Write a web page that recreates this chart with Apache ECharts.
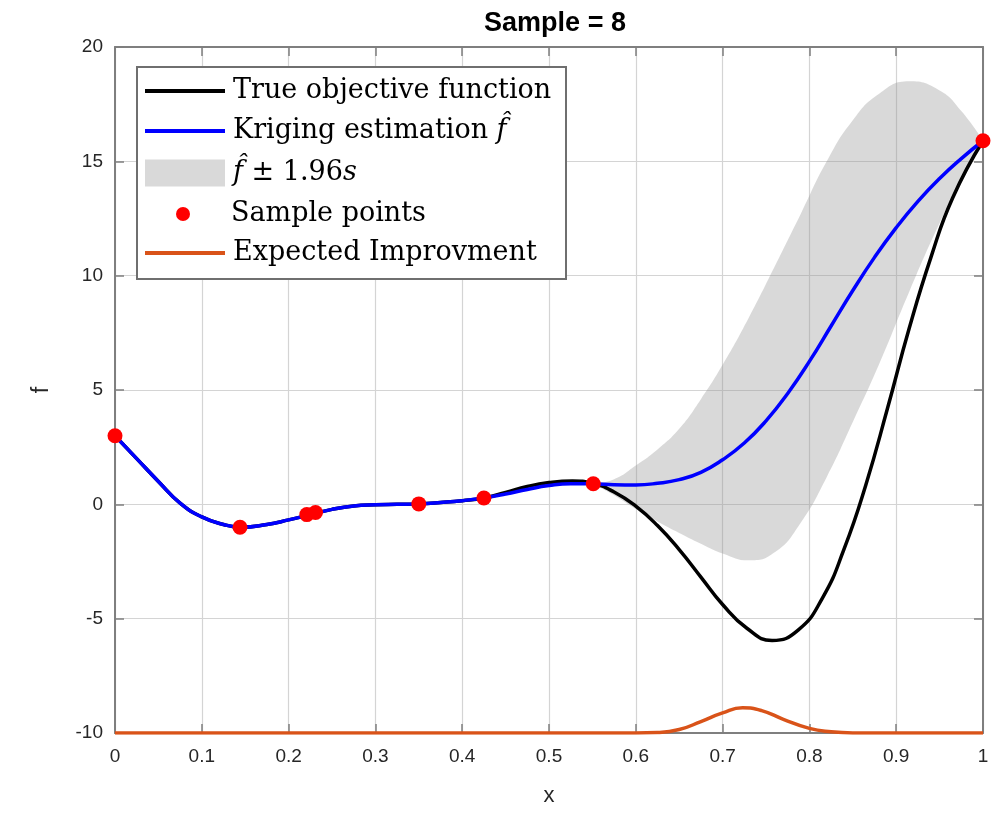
<!DOCTYPE html>
<html>
<head>
<meta charset="utf-8">
<script src="https://cdn.jsdelivr.net/npm/echarts@6/dist/echarts.min.js"></script>
<style>
  html, body { margin: 0; padding: 0; background: #fff; }
  #chart { width: 1000px; height: 814px; }
</style>
</head>
<body>
<div id="chart"></div>
<script>
// kriging estimate
const krigX = [0, 0.025, 0.05, 0.075, 0.1, 0.125, 0.145, 0.175, 0.2, 0.225, 0.25, 0.275, 0.3, 0.325, 0.35, 0.375, 0.4,
  0.425, 0.45, 0.475, 0.5, 0.525, 0.55, 0.575, 0.6, 0.625, 0.65, 0.675, 0.7, 0.725, 0.75, 0.775, 0.8, 0.825, 0.85,
  0.875, 0.9, 0.925, 0.95, 0.975, 1];
const kriging = [3.0, 2.0, 1.0, 0.05, -0.55, -0.88, -1.0, -0.88, -0.68, -0.45, -0.22, -0.07, -0.02, 0.0, 0.02, 0.08, 0.16,
  0.28, 0.45, 0.65, 0.82, 0.9, 0.9, 0.86, 0.85, 0.92, 1.08, 1.4, 1.95, 2.68, 3.65, 4.85, 6.25, 7.8, 9.35,
  10.8, 12.1, 13.25, 14.25, 15.12, 15.9];

// true objective function
const trueX = [0, 0.025, 0.05, 0.075, 0.1, 0.125, 0.145, 0.175, 0.2, 0.225, 0.25, 0.275, 0.3, 0.325, 0.35, 0.375, 0.4,
  0.425, 0.45, 0.475, 0.5, 0.527, 0.55, 0.575, 0.6, 0.625, 0.65, 0.675, 0.7, 0.728, 0.757, 0.787, 0.815, 0.84, 0.865,
  0.89, 0.915, 0.94, 0.965, 1];
const trueF = [3.0, 2.0, 1.0, 0.05, -0.55, -0.88, -1.0, -0.88, -0.68, -0.45, -0.22, -0.07, -0.02, 0.0, 0.02, 0.08, 0.16,
  0.28, 0.52, 0.78, 0.95, 1.02, 0.92, 0.54, -0.08, -0.93, -1.98, -3.18, -4.38, -5.42, -5.95, -5.5, -4.1, -1.95, 0.85,
  4.2, 7.7, 10.8, 13.4, 15.9];

// expected improvement (plotted with an offset of -10)
const eiX = [0, 0.6, 0.625, 0.65, 0.675, 0.7, 0.723, 0.745, 0.77, 0.8, 0.825, 0.85, 1];
const expImp = [-10, -10, -9.98, -9.85, -9.5, -9.12, -8.9, -9.02, -9.4, -9.8, -9.95, -10, -10];

// confidence band (only where it opens up)
const bandX = [0.55, 0.575, 0.6, 0.625, 0.65, 0.675, 0.7, 0.73, 0.76, 0.79, 0.82, 0.85, 0.88, 0.915, 0.95, 0.975, 1];
const bandUpper = [0.9, 1.1, 1.7, 2.4, 3.3, 4.6, 6.1, 8.15, 10.4, 12.7, 15.0, 16.8, 17.95, 18.5, 18.1, 17.2, 15.9];
const bandLower = [0.9, 0.4, -0.2, -0.75, -1.25, -1.72, -2.15, -2.45, -2.1, -0.8, 1.2, 3.6, 6.1, 9.3, 12.3, 14.2, 15.9];

const sampleX = [0, 0.144, 0.221, 0.231, 0.35, 0.425, 0.551, 1];
const sampleY = [3.0, -1.0, -0.45, -0.36, 0.02, 0.28, 0.9, 15.9];

const xTicks = { min: 0, max: 1, interval: 0.1 };
const yTicks = { min: -10, max: 20, interval: 5 };

const pairs = (a, b) => a.map((v, i) => [v, b[i]]);

const chart = echarts.init(document.getElementById("chart"));

const axisGray = "#7f7f7f";
const labelColor = "#262626";
const sans = "Liberation Sans";
const serif = "DejaVu Serif";

const legendText = {
  "True": "{r|True objective function}",
  "Kriging": "{r|Kriging estimation }{i|f\u0302}",
  "Band": "{i|f\u0302}{r| \u00b1 1.96}{i|s}",
  "Samples": "{r|Sample points}",
  "EI": "{r|Expected Improvment}"
};
// one legend per row so each icon can have its own size
const legendRows = [
  { name: "True", center: 91, icon: "rect", h: 4, left: 145 },
  { name: "Kriging", center: 131, icon: "rect", h: 4, left: 145 },
  { name: "Band", center: 173, icon: "rect", h: 27, left: 145 },
  { name: "Samples", center: 214, icon: "circle", h: 14, left: 176 },
  { name: "EI", center: 253, icon: "rect", h: 4, left: 145 }
];

const axisBase = {
  type: "value",
  axisLine: { show: true, onZero: false, lineStyle: { color: axisGray, width: 2 } },
  axisTick: { show: true, inside: true, length: 9, lineStyle: { color: axisGray, width: 1.5 } }
};

// band drawn as two stacked lines; y is put in column 0 so the stack runs along y
const bandLowData = bandX.map((x, i) => [bandLower[i], x]);
const bandGapData = bandX.map((x, i) => [bandUpper[i] - bandLower[i], x]);

const option = {
  backgroundColor: "#fff",
  animation: false,
  title: {
    text: "Sample = 8",
    left: 550,
    textAlign: "center",
    top: 5,
    textStyle: { fontFamily: sans, fontWeight: "bold", fontSize: 27, color: "#000" }
  },
  grid: { left: 115, right: 17, top: 47, bottom: 81 },
  graphic: [{
    type: "rect",
    z: 1,
    shape: { x: 137, y: 67, width: 429, height: 212 },
    style: { fill: "#fff", stroke: "#6f6f6f", lineWidth: 2 }
  }],
  legend: legendRows.map(r => ({
    data: [{ name: r.name, icon: r.icon }],
    left: r.left,
    top: r.center - 15,
    itemWidth: 80,
    itemHeight: r.h,
    itemGap: 0,
    padding: 0,
    selectedMode: false,
    formatter: n => legendText[n],
    textStyle: {
      lineHeight: 30,
      padding: [0, 0, 0, 3],
      rich: {
        r: { fontFamily: serif, fontSize: 27, color: "#000", lineHeight: 30 },
        i: { fontFamily: serif, fontSize: 27, fontStyle: "italic", color: "#000", lineHeight: 30 }
      }
    }
  })),
  xAxis: [{
    ...axisBase,
    ...xTicks,
    name: "x",
    nameLocation: "middle",
    nameGap: 52,
    nameTextStyle: { fontFamily: sans, fontSize: 22, color: labelColor },
    axisLabel: { fontFamily: sans, fontSize: 19, color: labelColor, margin: 14 },
    splitLine: { show: true, lineStyle: { color: "#d4d4d4", width: 1.2 } }
  }, {
    ...axisBase,
    ...xTicks,
    position: "top",
    axisLabel: { show: false },
    splitLine: { show: false }
  }],
  yAxis: [{
    ...axisBase,
    ...yTicks,
    name: "f",
    nameLocation: "middle",
    nameGap: 62,
    nameTextStyle: { fontFamily: sans, fontSize: 23, color: labelColor },
    axisLabel: { fontFamily: sans, fontSize: 19, color: labelColor, margin: 12 },
    splitLine: { show: true, lineStyle: { color: "#d4d4d4", width: 1.2 } }
  }, {
    ...axisBase,
    ...yTicks,
    position: "right",
    axisLabel: { show: false },
    splitLine: { show: false }
  }],
  series: [
    {
      name: "BandLow",
      type: "line",
      data: bandLowData,
      encode: { x: 1, y: 0 },
      stack: "band",
      stackStrategy: "all",
      smooth: 0.5,
      symbol: "none",
      lineStyle: { width: 0, opacity: 0 },
      silent: true
    },
    {
      name: "Band",
      type: "line",
      data: bandGapData,
      encode: { x: 1, y: 0 },
      stack: "band",
      stackStrategy: "all",
      smooth: 0.5,
      symbol: "none",
      itemStyle: { color: "#d9d9d9" },
      lineStyle: { width: 0, opacity: 0 },
      areaStyle: { color: "rgba(150,150,150,0.36)", opacity: 1 },
      silent: true
    },
    {
      name: "True",
      type: "line",
      data: pairs(trueX, trueF),
      smooth: 0.5,
      symbol: "none",
      itemStyle: { color: "#000" },
      lineStyle: { color: "#000", width: 3.5 }
    },
    {
      name: "Kriging",
      type: "line",
      data: pairs(krigX, kriging),
      smooth: 0.5,
      symbol: "none",
      itemStyle: { color: "#0000ff" },
      lineStyle: { color: "#0000ff", width: 3.5 }
    },
    {
      name: "EI",
      type: "line",
      data: pairs(eiX, expImp),
      smooth: 0.5,
      symbol: "none",
      itemStyle: { color: "#d95319" },
      lineStyle: { color: "#d95319", width: 3.5 }
    },
    {
      name: "Samples",
      type: "scatter",
      data: pairs(sampleX, sampleY),
      symbol: "circle",
      symbolSize: 15,
      itemStyle: { color: "#ff0000", opacity: 1 },
      z: 5
    }
  ]
};

chart.setOption(option);
</script>
</body>
</html>
